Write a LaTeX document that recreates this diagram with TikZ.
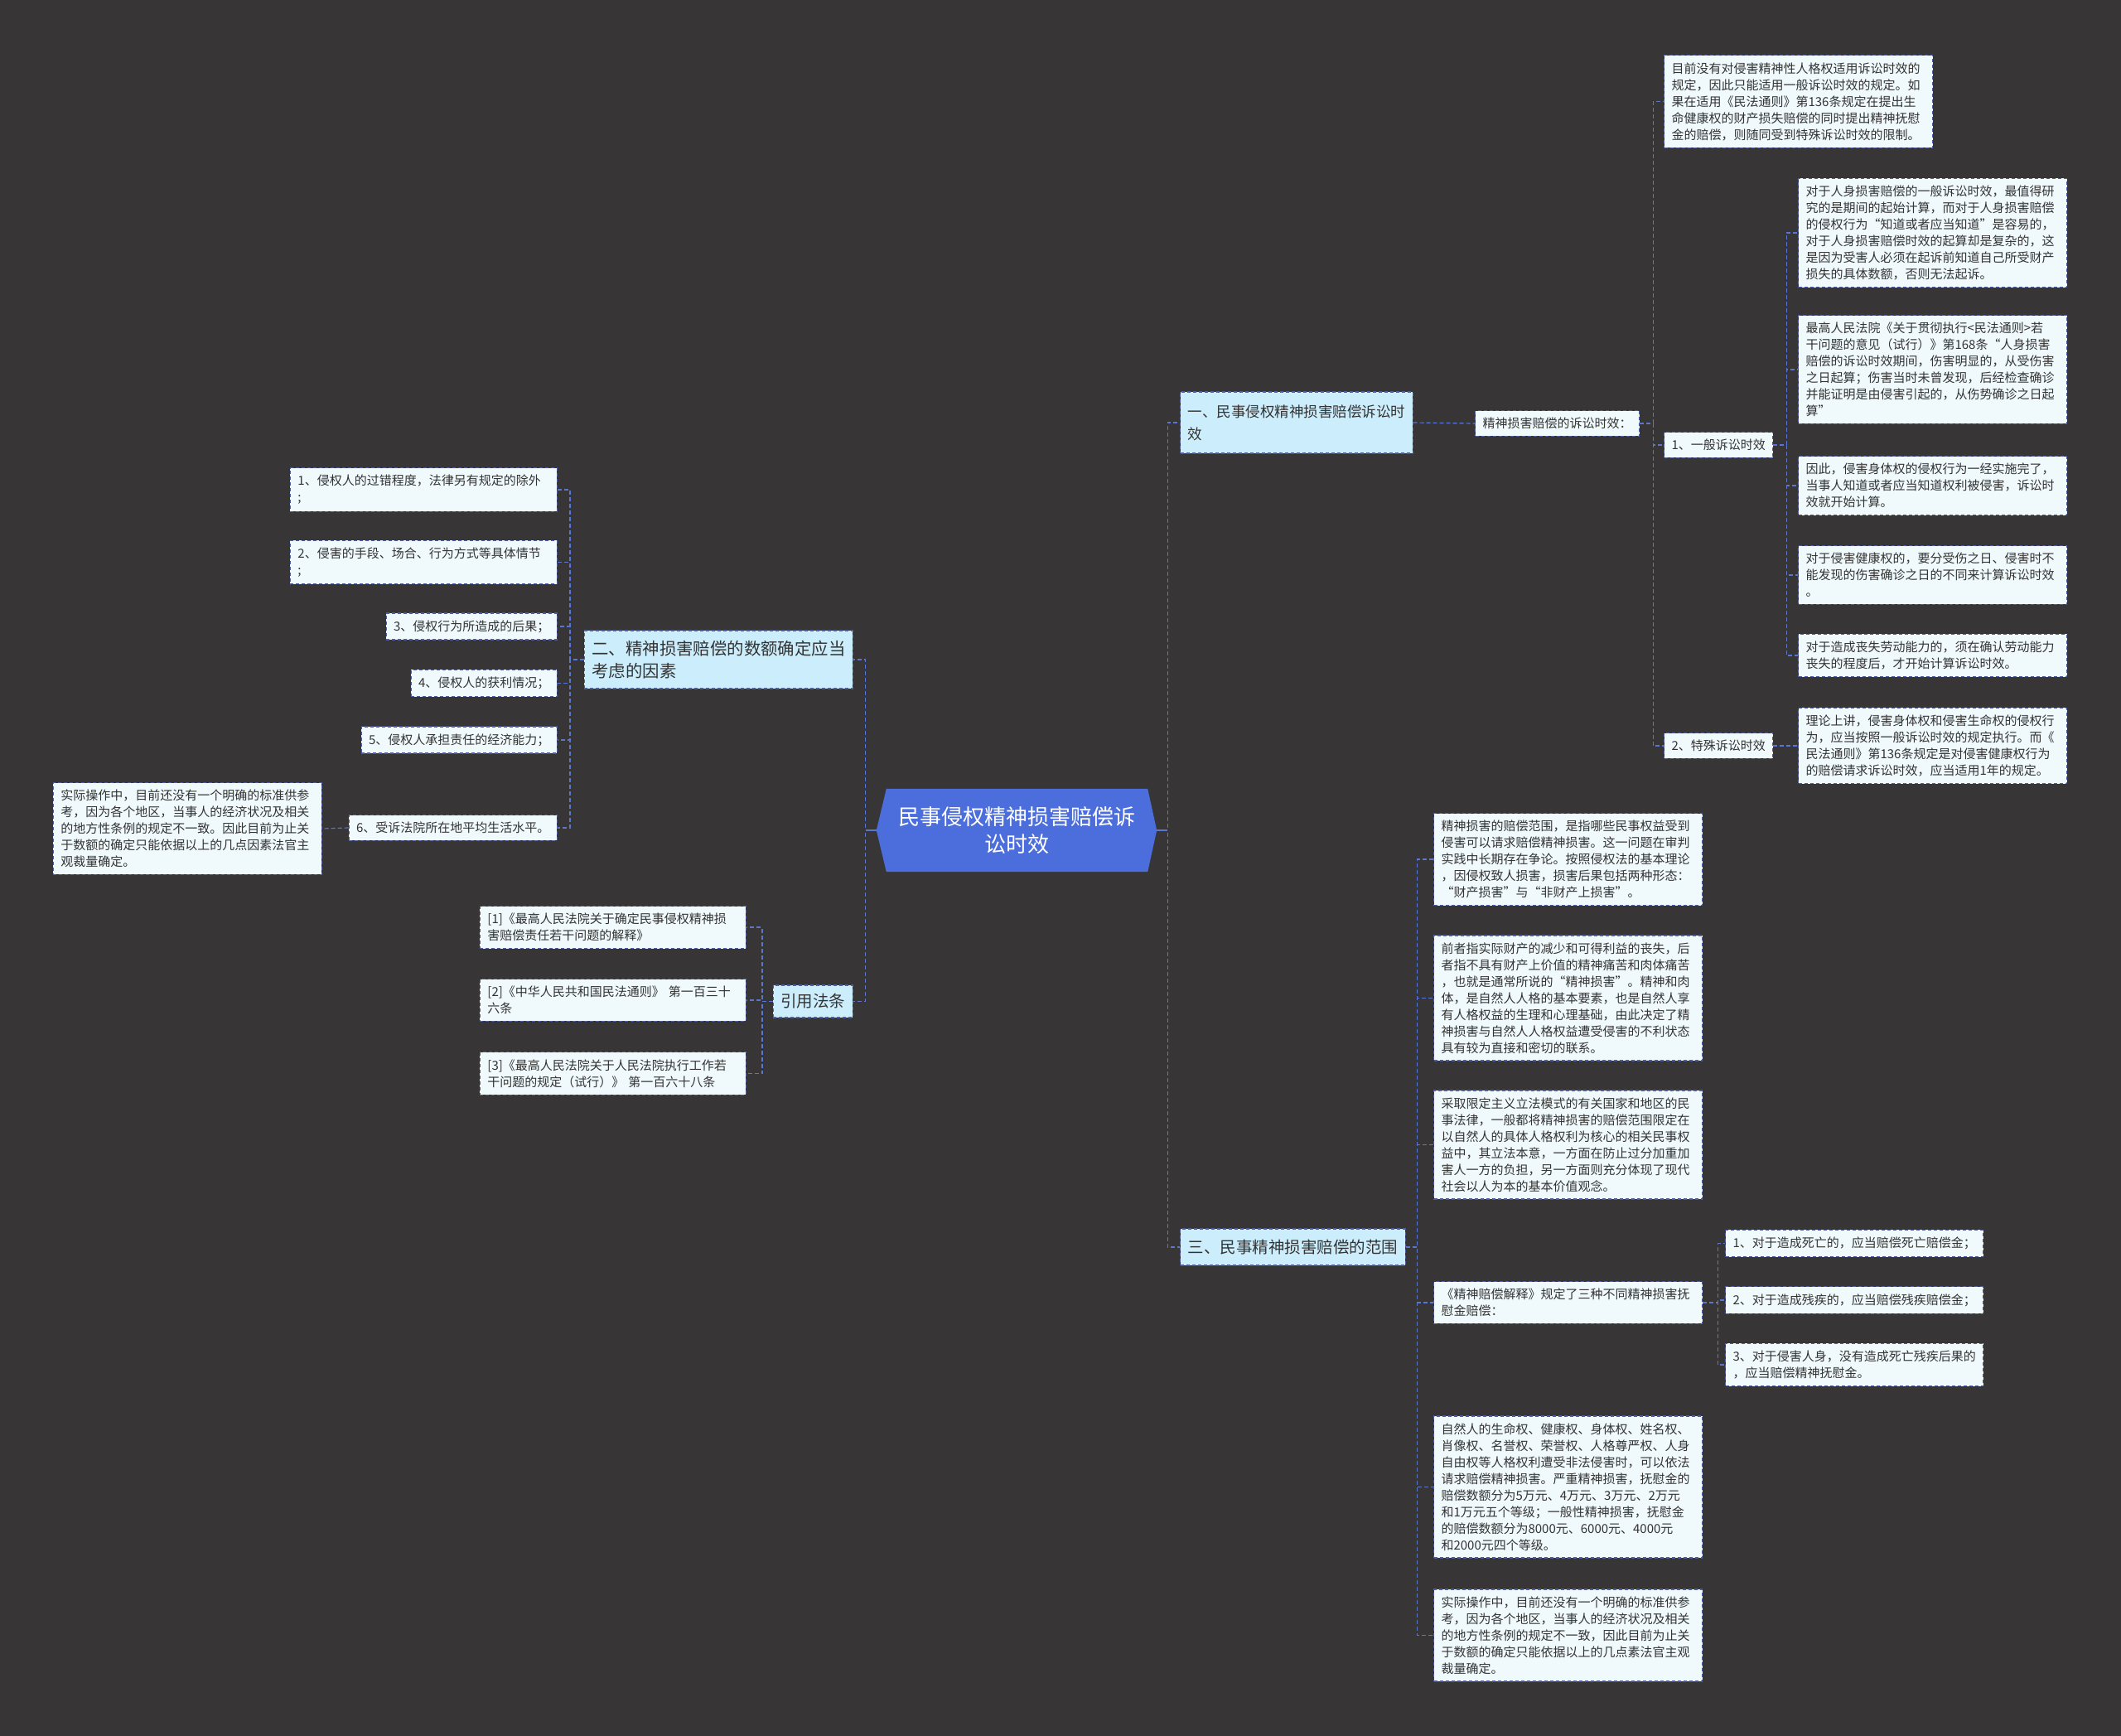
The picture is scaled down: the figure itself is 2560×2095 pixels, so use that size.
\documentclass[tikz,border=0pt]{standalone}
\usepackage{fontspec}
\setmainfont{Noto Sans CJK SC}
\usetikzlibrary{backgrounds}
\definecolor{bgc}{RGB}{55,53,54}
\definecolor{rootc}{RGB}{76,110,220}
\definecolor{lonec}{RGB}{204,238,252}
\definecolor{leafc}{RGB}{240,250,253}
\definecolor{bordc}{RGB}{78,94,160}
\definecolor{linec}{RGB}{88,118,210}
\definecolor{textc}{RGB}{51,51,51}
\newcommand\leaffont{\fontsize{15pt}{20pt}\selectfont}
\newcommand\lonefont{\fontsize{19.5pt}{27pt}\selectfont}
\newcommand\lonesmallfont{\fontsize{17.5pt}{27pt}\selectfont}
\newcommand\lonebigfont{\fontsize{20.4pt}{27pt}\selectfont}
\newcommand\rootfont{\fontsize{26pt}{33pt}\selectfont}
\begin{document}
\begin{tikzpicture}[x=1pt,y=-1pt,
  leaf/.style={draw=bordc, line width=1.1pt, dash pattern=on 4pt off 3pt, fill=leafc, text=textc,
    font=\leaffont, align=left, inner xsep=9pt, inner ysep=8.5pt},
  wide/.style={leaf, text width=306pt},
  lone/.style={draw=bordc, line width=1.1pt, dash pattern=on 4pt off 3pt, fill=lonec, text=textc,
    font=\lonefont, align=left, inner xsep=9pt, inner ysep=9pt},
  conn/.style={draw=linec, line width=1.2pt, dash pattern=on 5pt off 3pt},
  rootconn/.style={draw=linec, line width=1.6pt},
  rootnode/.style={text=white, font=\rootfont, align=center, minimum width=338pt, minimum height=100pt, inner sep=0pt}
]
\begin{scope}[on background layer]
\fill[bgc] (0,0) rectangle (2560,2095);
\end{scope}
\useasboundingbox (0,0) rectangle (2560,2095);

% root
\node[rootnode] (root) at (1227,1002) {民事侵权精神损害赔偿诉\\讼时效};
\begin{scope}[on background layer]
\fill[rootc] (root.west) -- ([xshift=12pt]root.north west) -- ([xshift=-11pt]root.north east)
  -- (root.east) -- ([xshift=-11pt]root.south east) -- ([xshift=12pt]root.south west) -- cycle;
\end{scope}

% ---------- right: branch one ----------
\node[lone, font=\lonesmallfont, anchor=west, minimum height=74pt] (n1) at (1424,510) {一、民事侵权精神损害赔偿诉讼时\\效};
\node[leaf, anchor=west] (n1a) at (1780,511) {精神损害赔偿的诉讼时效：};
\node[wide, anchor=west] (r1) at (2008,122.5) {目前没有对侵害精神性人格权适用诉讼时效的\\规定，因此只能适用一般诉讼时效的规定。如\\果在适用《民法通则》第136条规定在提出生\\命健康权的财产损失赔偿的同时提出精神抚慰\\金的赔偿，则随同受到特殊诉讼时效的限制。};
\node[leaf, anchor=west] (g1) at (2008,537) {1、一般诉讼时效};
\node[leaf, anchor=west] (g2) at (2008,900) {2、特殊诉讼时效};
\node[wide, anchor=west] (ga) at (2170,281) {对于人身损害赔偿的一般诉讼时效，最值得研\\究的是期间的起始计算，而对于人身损害赔偿\\的侵权行为“知道或者应当知道”是容易的，\\对于人身损害赔偿时效的起算却是复杂的，这\\是因为受害人必须在起诉前知道自己所受财产\\损失的具体数额，否则无法起诉。};
\node[wide, anchor=west] (gb) at (2170,446) {最高人民法院《关于贯彻执行<民法通则>若\\干问题的意见（试行）》第168条“人身损害\\赔偿的诉讼时效期间，伤害明显的，从受伤害\\之日起算；伤害当时未曾发现，后经检查确诊\\并能证明是由侵害引起的，从伤势确诊之日起\\算”};
\node[wide, anchor=west] (gc) at (2170,586) {因此，侵害身体权的侵权行为一经实施完了，\\当事人知道或者应当知道权利被侵害，诉讼时\\效就开始计算。};
\node[wide, anchor=west] (gd) at (2170,694) {对于侵害健康权的，要分受伤之日、侵害时不\\能发现的伤害确诊之日的不同来计算诉讼时效\\。};
\node[wide, anchor=west] (ge) at (2170,791) {对于造成丧失劳动能力的，须在确认劳动能力\\丧失的程度后，才开始计算诉讼时效。};
\node[wide, anchor=west] (gp) at (2170,900) {理论上讲，侵害身体权和侵害生命权的侵权行\\为，应当按照一般诉讼时效的规定执行。而《\\民法通则》第136条规定是对侵害健康权行为\\的赔偿请求诉讼时效，应当适用1年的规定。};

% ---------- right: branch three ----------
\node[lone, anchor=west, minimum height=44pt] (n3) at (1424,1505) {三、民事精神损害赔偿的范围};
\node[wide, anchor=west] (f1) at (1730,1037) {精神损害的赔偿范围，是指哪些民事权益受到\\侵害可以请求赔偿精神损害。这一问题在审判\\实践中长期存在争论。按照侵权法的基本理论\\，因侵权致人损害，损害后果包括两种形态：\\“财产损害”与“非财产上损害”。};
\node[wide, anchor=west] (f2) at (1730,1204.5) {前者指实际财产的减少和可得利益的丧失，后\\者指不具有财产上价值的精神痛苦和肉体痛苦\\，也就是通常所说的“精神损害”。精神和肉\\体，是自然人人格的基本要素，也是自然人享\\有人格权益的生理和心理基础，由此决定了精\\神损害与自然人人格权益遭受侵害的不利状态\\具有较为直接和密切的联系。};
\node[wide, anchor=west] (f3) at (1730,1381.5) {采取限定主义立法模式的有关国家和地区的民\\事法律，一般都将精神损害的赔偿范围限定在\\以自然人的具体人格权利为核心的相关民事权\\益中，其立法本意，一方面在防止过分加重加\\害人一方的负担，另一方面则充分体现了现代\\社会以人为本的基本价值观念。};
\node[wide, anchor=west] (f4) at (1730,1572) {《精神赔偿解释》规定了三种不同精神损害抚\\慰金赔偿：};
\node[wide, anchor=west] (f5) at (1730,1794.5) {自然人的生命权、健康权、身体权、姓名权、\\肖像权、名誉权、荣誉权、人格尊严权、人身\\自由权等人格权利遭受非法侵害时，可以依法\\请求赔偿精神损害。严重精神损害，抚慰金的\\赔偿数额分为5万元、4万元、3万元、2万元\\和1万元五个等级；一般性精神损害，抚慰金\\的赔偿数额分为8000元、6000元、4000元\\和2000元四个等级。};
\node[wide, anchor=west] (f6) at (1730,1973.5) {实际操作中，目前还没有一个明确的标准供参\\考，因为各个地区，当事人的经济状况及相关\\的地方性条例的规定不一致，因此目前为止关\\于数额的确定只能依据以上的几点素法官主观\\裁量确定。};
\node[leaf, anchor=west] (k1) at (2082,1500.5) {1、对于造成死亡的，应当赔偿死亡赔偿金；};
\node[leaf, anchor=west] (k2) at (2082,1569) {2、对于造成残疾的，应当赔偿残疾赔偿金；};
\node[leaf, anchor=west] (k3) at (2082,1647) {3、对于侵害人身，没有造成死亡残疾后果的\\，应当赔偿精神抚慰金。};

% ---------- left: branch two ----------
\node[lone, font=\lonebigfont, anchor=east, minimum height=70pt] (n2) at (1030,796) {二、精神损害赔偿的数额确定应当\\考虑的因素};
\node[leaf, anchor=east, text width=304pt] (e1) at (673,591) {1、侵权人的过错程度，法律另有规定的除外\\;};
\node[leaf, anchor=east, text width=304pt] (e2) at (673,678.5) {2、侵害的手段、场合、行为方式等具体情节\\;};
\node[leaf, anchor=east] (e3) at (673,756) {3、侵权行为所造成的后果；};
\node[leaf, anchor=east] (e4) at (673,824.5) {4、侵权人的获利情况；};
\node[leaf, anchor=east] (e5) at (673,893) {5、侵权人承担责任的经济能力；};
\node[leaf, anchor=east] (e6) at (673,999) {6、受诉法院所在地平均生活水平。};
\node[wide, anchor=east] (e6a) at (389,1000) {实际操作中，目前还没有一个明确的标准供参\\考，因为各个地区，当事人的经济状况及相关\\的地方性条例的规定不一致。因此目前为止关\\于数额的确定只能依据以上的几点因素法官主\\观裁量确定。};

% ---------- left: references ----------
\node[lone, anchor=east, minimum height=39pt] (rf) at (1030,1208.5) {引用法条};
\node[leaf, anchor=east, text width=303pt] (q1) at (901,1119) {[1]《最高人民法院关于确定民事侵权精神损\\害赔偿责任若干问题的解释》};
\node[leaf, anchor=east, text width=303pt] (q2) at (901,1207) {[2]《中华人民共和国民法通则》 第一百三十\\六条};
\node[leaf, anchor=east, text width=303pt] (q3) at (901,1295.5) {[3]《最高人民法院关于人民法院执行工作若\\干问题的规定（试行）》 第一百六十八条};

% ---------- connectors ----------
\begin{scope}[on background layer]
\draw[conn] (root.east) -- ++(13,0) |- (n1.west);
\draw[conn] (root.east) -- ++(13,0) |- (n3.west);
\draw[conn] (root.west) -- ++(-13,0) |- (n2.east);
\draw[conn] (root.west) -- ++(-13,0) |- (rf.east);
\end{scope}
\draw[rootconn] (root.east) -- ++(10,0);
\draw[rootconn] (root.west) -- ++(-10,0);

\draw[conn] (n1.east) -- (n1a.west);
\foreach \c in {r1,g1,g2} \draw[conn] (n1a.east) -- ++(16,0) |- (\c.west);
\foreach \c in {ga,gb,gc,gd,ge} \draw[conn] (g1.east) -- ++(16,0) |- (\c.west);
\draw[conn] (g2.east) -- (gp.west);

\foreach \c in {f1,f2,f3,f4,f5,f6} \draw[conn] (n3.east) -- ++(14,0) |- (\c.west);
\foreach \c in {k1,k2,k3} \draw[conn] (f4.east) -- ++(18,0) |- (\c.west);

\foreach \c in {e1,e2,e3,e4,e5,e6} \draw[conn] (n2.west) -- ++(-17,0) |- (\c.east);
\draw[conn] (e6.west) -- (e6a.east);
\foreach \c in {q1,q2,q3} \draw[conn] (rf.west) -- ++(-13,0) |- (\c.east);
\end{tikzpicture}
\end{document}
